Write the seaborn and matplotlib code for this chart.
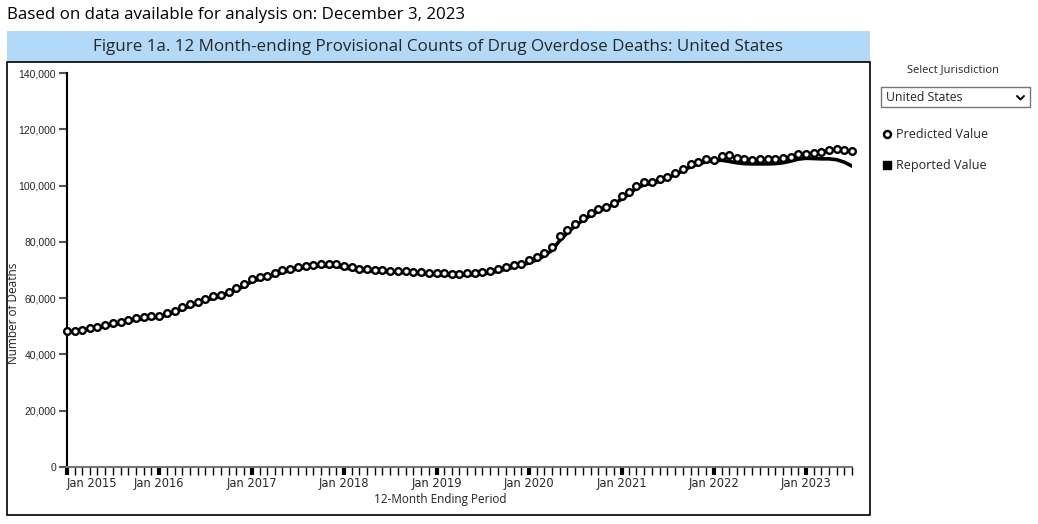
import matplotlib
matplotlib.use("Agg")
import matplotlib.pyplot as plt
import matplotlib.dates as mdates
from matplotlib.lines import Line2D
from matplotlib.patches import Rectangle
from matplotlib.ticker import FuncFormatter
import numpy as np
import pandas as pd
import seaborn as sns

# 12-month ending periods, Jan 2015 .. Jul 2023
periods = pd.date_range("2015-01-01", "2023-07-01", freq="MS")

predicted = [
    48200, 48400, 48800, 49400, 49900, 50400, 51000, 51600, 52300, 52900, 53300, 53500,
    53700, 54700, 55600, 56800, 58000, 58600, 59700, 60600, 61200, 62100, 63500, 65100,
    66800, 67400, 68000, 68900, 69900, 70500, 71100, 71300, 71900, 72000, 72000, 72000,
    71300, 70900, 70400, 70200, 70000, 69900, 69800, 69700, 69600, 69400, 69300, 69100,
    68900, 68800, 68700, 68700, 68800, 68900, 69200, 69600, 70200, 71000, 71600, 72300,
    73400, 74600, 76100, 78300, 82000, 84300, 86400, 88500, 90300, 91500, 92400, 93900,
    96200, 97700, 99700, 101300, 101400, 102200, 103200, 104400, 105800, 107500, 108400, 109500,
    109100, 110400, 110800, 109700, 109300, 109100, 109500, 109500, 109300, 109700, 110300, 111300,
    111300, 111400, 112100, 112600, 113100, 112700, 112200,
]

reported = [
    47800, 48100, 48500, 49000, 49500, 50000, 50500, 51100, 51700, 52300, 52700, 53000,
    53200, 54000, 55000, 56100, 57200, 58200, 59200, 60000, 60800, 61600, 62800, 64300,
    65900, 66800, 67400, 68200, 69100, 69800, 70400, 70900, 71200, 71400, 71400, 71300,
    70800, 70300, 69900, 69700, 69500, 69400, 69300, 69200, 69000, 68800, 68700, 68500,
    68300, 68200, 68100, 68100, 68200, 68300, 68600, 69000, 69600, 70300, 71000, 71700,
    72500, 73600, 75000, 77000, 80400, 83200, 85600, 87700, 89400, 90800, 92000, 93300,
    95200, 97000, 99100, 100300, 100800, 101500, 102600, 103900, 105300, 106700, 107700, 108400,
    108800, 109000, 108600, 108100, 107800, 107700, 107700, 107700, 107800, 108100, 108700, 109400,
    109700, 109600, 109500, 109500, 109200, 108300, 106900,
]

y_ticks = [0, 20000, 40000, 60000, 80000, 100000, 120000, 140000]

W, H = 1038, 524


def fx(x):
    return x / W


def fy(y):
    return 1 - y / H


sns.set_theme(style="white")
plt.rcParams["font.family"] = ["Open Sans", "DejaVu Sans"]

fig = plt.figure(figsize=(W / 100, H / 100), dpi=100)
fig.patch.set_facecolor("white")

# header text and title banner
fig.text(fx(7), fy(15), "Based on data available for analysis on: December 3, 2023",
         fontsize=12.2, va="center", ha="left", color="black")
fig.patches.append(Rectangle((fx(7), fy(62)), fx(870) - fx(7), fy(31) - fy(62),
                             transform=fig.transFigure, facecolor="#b3d9f8",
                             edgecolor="none", zorder=0))
fig.text(fx(438), fy(47), "Figure 1a. 12 Month-ending Provisional Counts of Drug "
         "Overdose Deaths: United States", fontsize=12.25, ha="center", va="center")
fig.patches.append(Rectangle((fx(7), fy(515)), fx(870) - fx(7), fy(62) - fy(515),
                             transform=fig.transFigure, facecolor="none",
                             edgecolor="black", linewidth=1.2, zorder=0))

ax = fig.add_axes([fx(67), fy(467), fx(852) - fx(67), fy(73) - fy(467)])
ax.set_facecolor("none")

sns.lineplot(x=periods, y=reported, ax=ax, color="black", linewidth=2.6, zorder=2)
sns.scatterplot(x=periods, y=predicted, ax=ax, marker="o", s=23, color="white",
                edgecolor="black", linewidth=1.7, zorder=3, clip_on=False)

ax.set_xlim(periods[0], periods[-1])
ax.set_ylim(0, 140000)
ax.set_yticks(y_ticks)
ax.yaxis.set_major_formatter(FuncFormatter(lambda v, p: f"{int(v):,}"))
ax.tick_params(axis="y", direction="out", length=6, width=1.5, color="#555555",
               labelsize=7.5, pad=2, left=True, labelfontfamily="Liberation Sans")

ax.xaxis.set_major_locator(mdates.YearLocator(month=1, day=1))
ax.xaxis.set_major_formatter(mdates.DateFormatter("Jan %Y"))
ax.xaxis.set_minor_locator(mdates.MonthLocator())
ax.tick_params(axis="x", which="major", direction="out", length=6, width=3,
               color="black", labelsize=8.3, pad=1.5, bottom=True,
               labelfontfamily="DejaVu Sans")
ax.tick_params(axis="x", which="minor", direction="out", length=6, width=1,
               color="black", bottom=True)

for side in ["top", "right"]:
    ax.spines[side].set_visible(False)
ax.spines["left"].set_color("black")
ax.spines["left"].set_linewidth(1.5)
ax.spines["bottom"].set_color("#777777")
ax.spines["bottom"].set_linewidth(1.5)
ax.grid(False)
ax.set_xlabel("")
ax.set_ylabel("")

fig.canvas.draw()
ax.get_xticklabels()[0].set_horizontalalignment("left")
ax.get_xticklabels()[0].set_x(ax.get_xticklabels()[0].get_position()[0])

fig.text(fx(440), fy(500), "12-Month Ending Period", fontsize=8.5, ha="center",
         va="center", color="#222222")
fig.text(fx(14), fy(313), "Number of Deaths", fontsize=8.5, ha="center",
         va="center", rotation=90, color="#222222")

# jurisdiction selector and legend
fig.text(fx(953), fy(70), "Select Jurisdiction", fontsize=8, ha="center", va="center")
fig.patches.append(Rectangle((fx(881), fy(107)), fx(1030) - fx(881), fy(87) - fy(107),
                             transform=fig.transFigure, facecolor="white",
                             edgecolor="#767676", linewidth=1))
fig.text(fx(886), fy(97.5), "United States", fontsize=8.8, ha="left", va="center")
fig.add_artist(Line2D([fx(1017), fx(1020.5), fx(1024)], [fy(96), fy(99.5), fy(96)],
                      transform=fig.transFigure, color="black", linewidth=1.4))

fig.add_artist(Line2D([fx(887)], [fy(134)], transform=fig.transFigure, marker="o",
                      markersize=5, markerfacecolor="white", markeredgecolor="black",
                      markeredgewidth=1.8, linestyle="none"))
fig.text(fx(896), fy(134), "Predicted Value", fontsize=9, ha="left", va="center")
fig.add_artist(Line2D([fx(887)], [fy(165)], transform=fig.transFigure, marker="s",
                      markersize=6, markerfacecolor="black", markeredgecolor="black",
                      linestyle="none"))
fig.text(fx(896), fy(165), "Reported Value", fontsize=9, ha="left", va="center")

fig.savefig("out.png", dpi=100)
